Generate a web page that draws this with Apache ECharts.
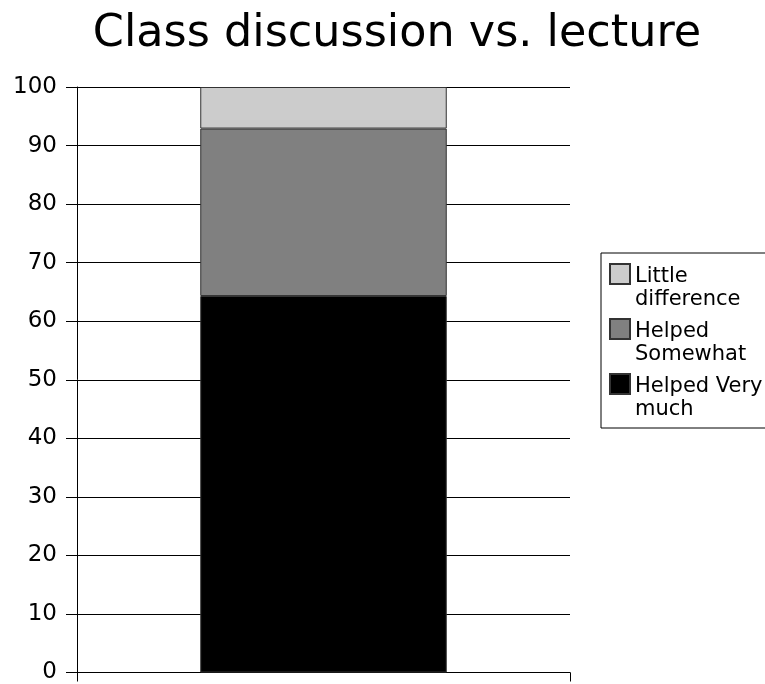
<!DOCTYPE html>
<html>
<head>
<meta charset="utf-8">
<script src="https://cdn.jsdelivr.net/npm/echarts@6/dist/echarts.min.js"></script>
<style>
  html, body { margin: 0; padding: 0; background: #fff; }
  #chart { width: 765px; height: 684px; }
</style>
</head>
<body>
<div id="chart"></div>
<script>
// data (percent)
const categories = ['']
const seriesNames = ['Helped Very much', 'Helped Somewhat', 'Little difference']
const veryMuch = [64.3]
const somewhat = [28.6]
const littleDiff = [7.1]
const seriesColors = ['#000000', '#808080', '#cccccc']
const legendLabels = {
  'Little difference': 'Little\ndifference',
  'Helped Somewhat': 'Helped\nSomewhat',
  'Helped Very much': 'Helped Very\nmuch'
}

const chart = echarts.init(document.getElementById('chart'))
const font = 'DejaVu Sans'

const values = [veryMuch, somewhat, littleDiff]
const series = seriesNames.map((name, i) => ({
  name: name,
  type: 'bar',
  stack: 'total',
  barWidth: '50%',
  data: values[i],
  itemStyle: {
    color: seriesColors[i],
    borderColor: '#333',
    borderWidth: 1
  }
}))

chart.setOption({
  animation: false,
  textStyle: { fontFamily: font, color: '#000' },
  title: {
    text: 'Class discussion vs. lecture',
    left: 392,
    textAlign: 'center',
    top: 7,
    textStyle: { fontFamily: font, fontSize: 44.5, fontWeight: 'normal', color: '#000' }
  },
  grid: {
    left: 77,
    right: 195,
    top: 87,
    bottom: 9,
    containLabel: false
  },
  legend: {
    orient: 'vertical',
    left: 601,
    top: 253,
    data: ['Little difference', 'Helped Somewhat', 'Helped Very much'],
    // square on top of a taller icon so text line one lines up with it
    icon: 'path://M0,0H20V20H0Z M0,48',
    itemWidth: 20,
    itemHeight: 48,
    itemGap: 5,
    padding: [10, 40, 5, 8],
    borderColor: '#000',
    borderWidth: 1,
    formatter: name => legendLabels[name],
    textStyle: { fontFamily: font, fontSize: 21, lineHeight: 23, color: '#000' }
  },
  xAxis: {
    type: 'category',
    data: categories,
    axisLine: { lineStyle: { color: '#000', width: 1 } },
    axisTick: { show: true, length: 9, lineStyle: { color: '#000' } },
    axisLabel: { show: false }
  },
  yAxis: {
    type: 'value',
    min: 0,
    max: 100,
    interval: 10,
    axisLine: { show: true, lineStyle: { color: '#000', width: 1 } },
    axisTick: { show: true, length: 11, lineStyle: { color: '#000' } },
    axisLabel: { fontFamily: font, fontSize: 23, color: '#000', margin: 20 },
    splitLine: { show: true, lineStyle: { color: '#000', width: 1 } }
  },
  series: series
})
</script>
</body>
</html>
